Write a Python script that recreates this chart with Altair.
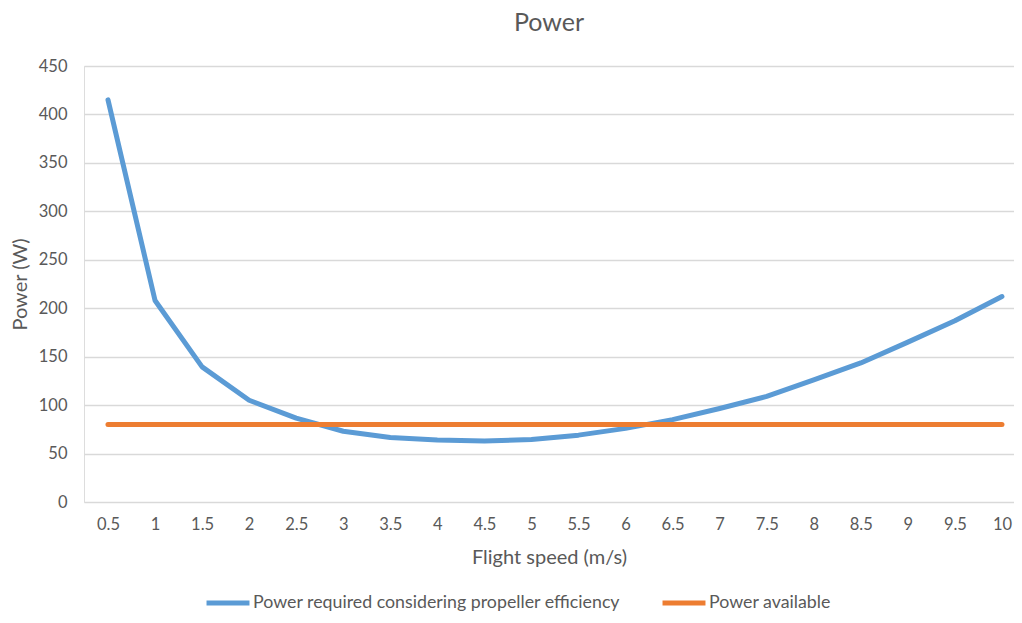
import altair as alt
import pandas as pd

speeds = [0.5, 1, 1.5, 2, 2.5, 3, 3.5, 4, 4.5, 5, 5.5, 6, 6.5, 7, 7.5, 8, 8.5, 9, 9.5, 10]
required = [415, 208, 139.5, 105, 86.5, 73, 66.5, 64, 63, 64.5, 69, 76, 85, 96.5, 109, 126, 143.5, 165, 187, 212]
available = [80, 80, 80, 80, 80, 80, 80, 80, 80, 80, 80, 80, 80, 80, 80, 80, 80, 80, 80, 80]
series_names = ["Power required considering propeller efficiency", "Power available"]
series_colors = ["#5B9BD5", "#ED7D31"]
y_ticks = [0, 50, 100, 150, 200, 250, 300, 350, 400, 450]

df_req = pd.DataFrame({"speed": speeds, "power": required, "series": series_names[0]})
df_av = pd.DataFrame({"speed": speeds, "power": available, "series": series_names[1]})

FONT = "Lato"
TXT = "#595959"

x_enc = alt.X(
    "speed:Q",
    scale=alt.Scale(domain=[0.245, 10.128], nice=False, zero=False),
    axis=alt.Axis(
        values=speeds, format="~g", grid=False, ticks=False, domain=False,
        labelPadding=14, labelFontSize=16.5, labelColor=TXT, labelFont=FONT,
        title="Flight speed (m/s)", titleFontSize=20, titleColor=TXT, titleFont=FONT,
        titleFontWeight="normal", titleY=55, titleBaseline="middle",
        labelFlush=False, labelOverlap=False,
    ),
)
y_enc = alt.Y(
    "power:Q",
    scale=alt.Scale(domain=[0, 450], nice=False),
    axis=alt.Axis(
        values=y_ticks, grid=True, gridColor="#D9D9D9", gridWidth=1.5,
        ticks=False, domain=False, labelPadding=17,
        labelFontSize=16.5, labelColor=TXT, labelFont=FONT,
        title="Power (W)", titleFontSize=20, titleColor=TXT, titleFont=FONT,
        titleFontWeight="normal", titleX=-64, titleY=218, titleAngle=270,
        titleAlign="center", titleBaseline="middle",
    ),
)
# custom line symbol: path spans 6 units of the unit square -> 43 px long at size 205
color_enc = alt.Color(
    "series:N",
    scale=alt.Scale(domain=series_names, range=series_colors),
    legend=alt.Legend(
        title=None, orient="none", direction="horizontal",
        legendX=134, legendY=527,
        symbolType="M-3,0H3", symbolSize=205, symbolStrokeWidth=5,
        symbolFillColor="transparent",
        labelFontSize=17.8, labelFont=FONT, labelColor=TXT, labelOffset=15,
        labelLimit=1000, columnPadding=31,
    ),
)

blue = alt.Chart(df_req).mark_line(strokeWidth=5, strokeCap="round", strokeJoin="round").encode(
    x=x_enc, y=y_enc, color=color_enc
)
orange = alt.Chart(df_av).mark_line(strokeWidth=5, strokeCap="round", strokeJoin="round").encode(
    x=x_enc, y=y_enc, color=color_enc
)

chart = alt.layer(blue, orange).properties(
    width=930, height=436,
    title=alt.Title("Power", fontSize=25, font=FONT, color=TXT, fontWeight="normal",
                    offset=22, frame="group", anchor="middle"),
    autosize=alt.AutoSizeParams(type="none"),
    padding={"left": 76, "top": 58, "right": 0, "bottom": 113},
).configure_view(stroke=None).configure(background="white")

chart.save("out.html", embed_options={"renderer": "svg", "actions": False})
